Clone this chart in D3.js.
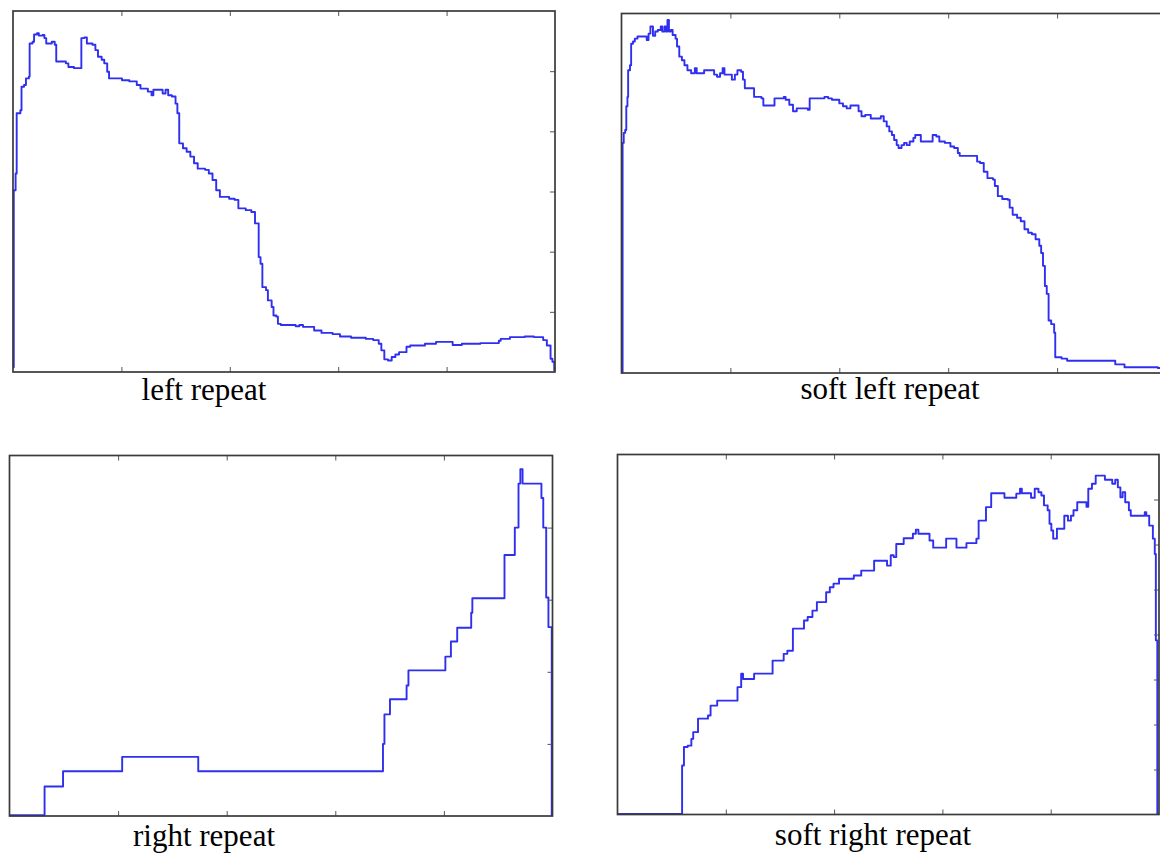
<!DOCTYPE html>
<html>
<head>
<meta charset="utf-8">
<script src="https://cdn.jsdelivr.net/npm/d3@7"></script>
<style>
  html, body { margin: 0; padding: 0; background: #fff; overflow: hidden; }
  svg { display: block; }
</style>
</head>
<body>
<svg id="chart" width="1160" height="855"></svg>
<script>
// values: x is position along the read (0-100), y in axis units
const xTickValues = [20, 40, 60, 80];

const leftRepeatX = [0, 0.14, 0.48, 0.68, 1.36, 1.57, 2.04, 2.39, 2.93, 3.07, 3.61, 3.89, 4.43, 4.77, 5.45, 5.79, 6.13, 6.82, 7.16, 7.70, 7.98, 9.20, 9.75, 10.22, 11.25, 12.27, 12.61, 13.16, 13.63, 14.66, 15.20, 15.68, 16.36, 16.84, 17.38, 17.72, 20.11, 21.47, 22.84, 23.52, 24.88, 25.56, 25.90, 26.93, 27.61, 28.15, 28.63, 29.31, 29.99, 30.33, 30.67, 31.36, 32.04, 32.72, 33.40, 34.08, 35.45, 36.13, 36.81, 37.49, 38.17, 39.88, 40.90, 41.58, 42.94, 43.97, 44.65, 45.33, 45.67, 46.01, 46.69, 47.03, 47.72, 48.06, 48.60, 48.88, 49.42, 52.15, 52.83, 53.51, 55.56, 56.92, 58.96, 60.33, 62.37, 65.10, 66.46, 67.48, 67.96, 68.51, 69.19, 69.87, 70.55, 71.23, 72.60, 73.28, 76.01, 78.05, 80.44, 81.12, 82.82, 86.23, 89.64, 89.98, 91.68, 94.41, 96.11, 97.82, 98.50, 99.18, 99.52, 99.86, 100];
const leftRepeatY = [0.08, 3.02, 3.30, 4.30, 4.35, 4.74, 4.77, 4.88, 4.91, 5.46, 5.49, 5.61, 5.63, 5.59, 5.60, 5.55, 5.46, 5.46, 5.49, 5.44, 5.16, 5.16, 5.13, 5.07, 5.05, 5.05, 5.55, 5.56, 5.46, 5.44, 5.35, 5.24, 5.19, 5.13, 4.99, 4.88, 4.85, 4.83, 4.77, 4.71, 4.66, 4.60, 4.69, 4.69, 4.63, 4.69, 4.60, 4.58, 4.46, 4.30, 3.80, 3.72, 3.66, 3.58, 3.47, 3.38, 3.36, 3.30, 3.19, 3.02, 2.91, 2.88, 2.86, 2.72, 2.69, 2.66, 2.47, 1.91, 1.80, 1.41, 1.36, 1.19, 1.08, 0.94, 0.92, 0.80, 0.78, 0.76, 0.78, 0.75, 0.69, 0.65, 0.63, 0.59, 0.57, 0.55, 0.53, 0.47, 0.36, 0.21, 0.19, 0.25, 0.29, 0.33, 0.42, 0.44, 0.47, 0.50, 0.50, 0.45, 0.47, 0.48, 0.52, 0.55, 0.58, 0.59, 0.58, 0.53, 0.44, 0.22, 0.17, 0.03, 0.03];

const softLeftX = [0, 0.20, 0.41, 0.68, 0.88, 1.09, 1.22, 1.56, 1.77, 2.11, 2.45, 2.93, 4.29, 4.63, 4.97, 5.31, 5.78, 6.19, 6.67, 7.21, 7.48, 7.89, 8.16, 8.44, 8.71, 9.05, 9.39, 9.93, 10.20, 10.61, 11.09, 11.56, 12.11, 12.79, 13.47, 13.81, 14.83, 15.17, 16.53, 17.01, 17.55, 18.10, 18.57, 18.91, 19.59, 20.27, 20.82, 21.29, 21.97, 22.31, 22.65, 24.01, 24.35, 25.71, 26.05, 27.76, 28.10, 29.46, 29.80, 30.14, 30.82, 31.50, 32.18, 33.20, 34.22, 34.56, 36.60, 37.28, 37.96, 38.64, 39.32, 40.00, 40.68, 41.36, 42.04, 43.06, 43.54, 44.08, 44.76, 45.78, 46.80, 47.62, 48.16, 48.71, 49.18, 49.66, 50.07, 50.54, 50.88, 51.43, 51.90, 52.38, 52.93, 53.61, 53.95, 54.63, 54.97, 56.67, 57.14, 57.82, 58.37, 59.39, 60.41, 61.09, 61.77, 62.11, 64.49, 65.31, 65.85, 66.53, 67.21, 68.23, 68.57, 69.12, 69.93, 70.95, 71.29, 71.84, 72.65, 73.33, 74.01, 74.69, 75.37, 76.05, 76.73, 77.07, 77.41, 77.76, 78.10, 78.44, 78.91, 79.46, 79.66, 80.82, 81.84, 90.34, 90.68, 92.04, 92.38, 98.50, 99.18, 100];
const softLeftY = [0.01, 3.20, 3.34, 3.38, 3.71, 3.84, 4.21, 4.28, 4.58, 4.61, 4.65, 4.68, 4.68, 4.63, 4.72, 4.82, 4.69, 4.75, 4.77, 4.82, 4.75, 4.82, 4.75, 4.91, 4.75, 4.77, 4.70, 4.65, 4.54, 4.40, 4.35, 4.28, 4.21, 4.17, 4.24, 4.17, 4.17, 4.21, 4.21, 4.15, 4.12, 4.17, 4.24, 4.15, 4.15, 4.08, 4.15, 4.21, 4.19, 4.08, 3.96, 3.96, 3.84, 3.82, 3.72, 3.72, 3.82, 3.82, 3.84, 3.80, 3.73, 3.64, 3.68, 3.68, 3.66, 3.82, 3.82, 3.84, 3.82, 3.80, 3.80, 3.75, 3.71, 3.68, 3.72, 3.72, 3.64, 3.57, 3.59, 3.54, 3.54, 3.57, 3.50, 3.43, 3.36, 3.31, 3.24, 3.17, 3.13, 3.17, 3.20, 3.17, 3.22, 3.27, 3.31, 3.31, 3.22, 3.22, 3.31, 3.29, 3.22, 3.20, 3.15, 3.13, 3.06, 3.02, 3.02, 2.94, 2.92, 2.80, 2.71, 2.69, 2.60, 2.46, 2.42, 2.41, 2.30, 2.20, 2.16, 2.11, 2.00, 1.95, 1.93, 1.86, 1.77, 1.67, 1.49, 1.21, 1.10, 0.73, 0.68, 0.56, 0.22, 0.20, 0.17, 0.17, 0.12, 0.12, 0.08, 0.07, 0.03, 0.02];

const rightRepeatX = [0, 6.46, 9.86, 20.75, 34.76, 68.78, 69.05, 70.07, 73.13, 73.47, 80.27, 81.29, 82.45, 85.03, 85.24, 91.16, 93.06, 93.74, 94.08, 94.49, 97.96, 98.30, 98.84, 99.25, 99.66, 99.86, 100];
const rightRepeatY = [0.01, 0.41, 0.62, 0.82, 0.62, 1.00, 1.41, 1.62, 1.81, 2.02, 2.21, 2.42, 2.61, 2.82, 3.02, 3.62, 4.00, 4.61, 4.81, 4.61, 4.41, 4.00, 3.03, 2.62, 2.62, 0.01, 0.01];

const softRightX = [0, 11.93, 12.27, 12.96, 13.64, 13.98, 14.87, 16.71, 17.19, 18.41, 22.16, 22.84, 23.18, 25.23, 28.64, 30.69, 31.37, 32.39, 34.44, 35.12, 36.00, 36.82, 38.53, 39.21, 39.89, 40.91, 43.64, 45.01, 47.39, 49.78, 50.46, 51.01, 51.48, 52.85, 54.55, 55.10, 55.57, 57.62, 58.30, 60.69, 62.60, 64.44, 66.28, 66.69, 68.05, 69.01, 71.46, 73.65, 74.33, 74.67, 76.37, 77.05, 77.74, 78.28, 78.76, 79.44, 79.78, 80.12, 80.46, 81.15, 82.51, 83.19, 83.74, 84.21, 84.90, 86.60, 86.94, 87.62, 88.31, 90.01, 91.37, 91.92, 92.40, 92.87, 93.28, 93.76, 94.44, 94.78, 97.37, 97.65, 98.19, 98.87, 99.22, 99.42, 99.69, 100];
const softRightY = [0.01, 1.09, 1.50, 1.53, 1.68, 1.83, 2.13, 2.20, 2.42, 2.53, 2.83, 3.13, 3.01, 3.13, 3.42, 3.57, 3.64, 4.13, 4.31, 4.39, 4.53, 4.72, 4.94, 5.05, 5.13, 5.24, 5.31, 5.42, 5.64, 5.53, 5.76, 5.72, 6.01, 6.14, 6.24, 6.33, 6.24, 6.09, 5.93, 6.13, 5.93, 6.03, 6.13, 6.53, 6.83, 7.14, 7.04, 7.13, 7.24, 7.14, 7.04, 7.24, 7.16, 7.09, 6.87, 6.76, 6.46, 6.31, 6.13, 6.35, 6.64, 6.53, 6.64, 6.76, 6.94, 6.84, 7.24, 7.35, 7.53, 7.44, 7.35, 7.44, 7.27, 7.05, 7.16, 6.94, 6.76, 6.64, 6.72, 6.64, 6.42, 6.13, 5.79, 3.87, 0.01, 0.01];

const panels = [
  { name: "left repeat",       xs: leftRepeatX,  ys: leftRepeatY,  yMax: 6, box: [13, 11, 555, 372],      label: [204, 400] },
  { name: "soft left repeat",  xs: softLeftX,    ys: softLeftY,    yMax: 5, box: [621.5, 13.5, 1166, 373], label: [890, 399] },
  { name: "right repeat",      xs: rightRepeatX, ys: rightRepeatY, yMax: 5, box: [9.5, 455.5, 552.5, 816], label: [204, 846] },
  { name: "soft right repeat", xs: softRightX,   ys: softRightY,   yMax: 8, box: [617.5, 454.5, 1159, 814.5], label: [873, 845] }
];

const svg = d3.select('#chart');

panels.forEach(p => {
  const [x0, y0, x1, y1] = p.box;
  const x = d3.scaleLinear().domain([0, 100]).range([x0, x1]);
  const y = d3.scaleLinear().domain([0, p.yMax]).range([y1, y0]);
  const g = svg.append('g');

  const line = d3.line()
    .x(d => x(d[0]))
    .y(d => y(d[1]))
    .curve(d3.curveStepAfter);

  g.append('path')
    .datum(d3.zip(p.xs, p.ys))
    .attr('d', line)
    .attr('fill', 'none')
    .attr('stroke', '#2f2ff0')
    .attr('stroke-width', 1.9)
    .attr('stroke-linejoin', 'round');

  // ticks point inward, no labels
  const tick = sel => sel.call(s => s.select('.domain').remove())
    .call(s => s.selectAll('.tick line').attr('stroke', '#555').attr('stroke-width', 1));

  g.append('g').attr('transform', `translate(0,${y0})`)
    .call(d3.axisTop(x).tickValues(xTickValues).tickSize(-5).tickFormat(''))
    .call(tick);
  g.append('g').attr('transform', `translate(0,${y1})`)
    .call(d3.axisBottom(x).tickValues(xTickValues).tickSize(-5).tickFormat(''))
    .call(tick);
  g.append('g').attr('transform', `translate(${x1},0)`)
    .call(d3.axisRight(y).tickValues(d3.range(1, p.yMax)).tickSize(-5).tickFormat(''))
    .call(tick);

  g.append('rect')
    .attr('x', x0).attr('y', y0)
    .attr('width', x1 - x0).attr('height', y1 - y0)
    .attr('fill', 'none')
    .attr('stroke', '#3a3a3a')
    .attr('stroke-width', 1.7);

  svg.append('text')
    .attr('x', p.label[0]).attr('y', p.label[1])
    .attr('text-anchor', 'middle')
    .attr('font-family', '"Liberation Serif", "Times New Roman", serif')
    .attr('font-size', 31)
    .attr('fill', '#000')
    .text(p.name);
});
</script>
</body>
</html>
